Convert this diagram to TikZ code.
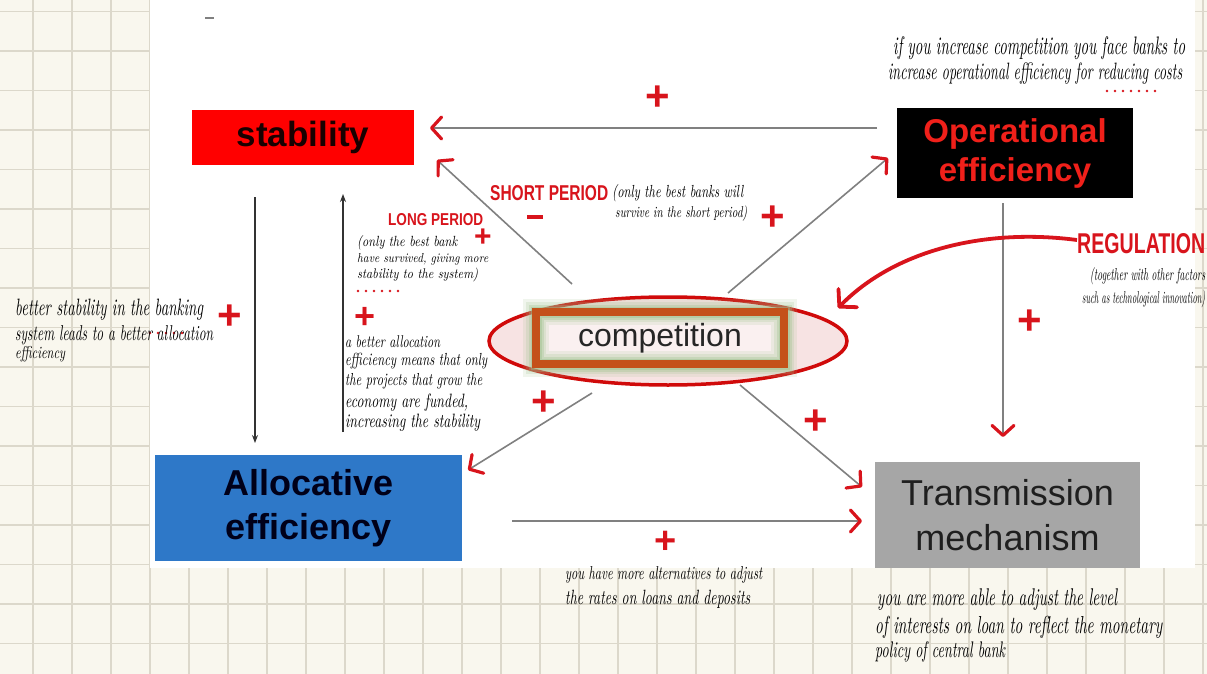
\documentclass[tikz,border=0pt]{standalone}
\usepackage{fontspec}
\usepackage{graphicx}
\usetikzlibrary{arrows.meta,shapes.geometric,calc}
\newfontfamily\arial{Liberation Sans}
\definecolor{paper}{HTML}{F9F7EE}
\definecolor{gridc}{HTML}{DCD8CB}
\definecolor{boxred}{HTML}{FF0000}
\definecolor{boxblue}{HTML}{2E78C8}
\definecolor{boxgray}{HTML}{A6A6A6}
\definecolor{handred}{HTML}{D8141C}
\definecolor{ellred}{HTML}{D00A0A}
\definecolor{ellfill}{HTML}{F7E3E3}
\definecolor{innerfill}{HTML}{FAF0F0}
\definecolor{rector}{HTML}{C4511A}
\definecolor{glow}{HTML}{9CC08A}
\definecolor{lineg}{HTML}{808080}
\definecolor{opred}{HTML}{F0201A}
\newcommand{\hw}[3][1.6]{\resizebox{#2pt}{!}{\scalebox{1}[#1]{\itshape #3}}}
\newcommand{\mk}[3]{\resizebox{#1pt}{#2pt}{\arial\bfseries #3}}
\begin{document}
\begin{tikzpicture}[x=1pt,y=-1pt,
  box/.style={rectangle, inner sep=0pt, align=center, font=\arial\bfseries\fontsize{35}{42}\selectfont},
  hwt/.style={anchor=base west, inner sep=0pt, text=black},
  mkt/.style={anchor=base west, inner sep=0pt, text=handred},
  plus/.style={text=handred, inner sep=0pt, font=\arial\bfseries\fontsize{42}{42}\selectfont},
  gline/.style={draw=lineg, line width=1.6pt},
  redtip/.style={-{Straight Barb[color=handred, length=10pt, width=22pt, line width=3.2pt, round]}},
  blk/.style={draw=black!80, line width=1.1pt, -{Stealth[length=8pt, width=6pt]}},
  dots/.style={draw=handred, line width=2.6pt, line cap=round, dash pattern=on 0pt off 8pt}
]
\useasboundingbox (0,0) rectangle (1207,674);
% paper background
\fill[paper] (0,0) rectangle (1207,674);
\foreach \k in {0,...,30} \draw[gridc, line width=1.2pt] ({33+39*\k},0) -- ({33+39*\k},674);
\foreach \k in {0,...,16} \draw[gridc, line width=1.2pt] (0,{11.5+39.5*\k}) -- (1207,{11.5+39.5*\k});
\fill[white] (150,0) rectangle (1195,568);
\draw[lineg, line width=1.5pt] (205,18) -- (214,18);

% boxes
\node[box, fill=boxred, minimum width=222pt, minimum height=55pt, text=black!90!red] (stab) at (303,137.5) {stability};
\node[box, fill=black, minimum width=236pt, minimum height=90pt, text=opred, font=\arial\bfseries\fontsize{33}{39}\selectfont] (op) at (1015,153) {Operational\\efficiency};
\node[box, fill=boxblue, minimum width=307pt, minimum height=106pt, text=black!90!blue, font=\arial\bfseries\fontsize{36}{44}\selectfont] (alloc) at (308.5,508) {Allocative\\efficiency};
\node[box, fill=boxgray, minimum width=265pt, minimum height=106pt, text=black!88, font=\arial\fontsize{36}{45}\selectfont] (trans) at (1007.5,515) {Transmission\\mechanism};

% connector end points
\coordinate (a1) at (877,128); \coordinate (a2) at (430,128);
\coordinate (b1) at (572,284); \coordinate (b2) at (437,160);
\coordinate (c1) at (728,293); \coordinate (c2) at (888,158);
\coordinate (d1) at (592,393); \coordinate (d2) at (468,470);
\coordinate (e1) at (740,385); \coordinate (e2) at (862,487);
\coordinate (f1) at (512,521); \coordinate (f2) at (862,521);
\coordinate (g1) at (1003,203); \coordinate (g2) at (1003,437);
\coordinate (h1) at (255,197); \coordinate (h2) at (255,443);
\coordinate (i1) at (343,432); \coordinate (i2) at (343,194);
\coordinate (r1) at (1077,240); \coordinate (r2) at (838,308);

\draw[gline, redtip] (a1) -- (a2);
\draw[gline, redtip] (b1) -- (b2);
\draw[gline, redtip] (c1) -- (c2);
\draw[gline, redtip] (d1) -- (d2);
\draw[gline, redtip] (e1) -- (e2);
\draw[gline, redtip] (f1) -- (f2);
\draw[gline, redtip] (g1) -- (g2);
\draw[blk] (h1) -- (h2);
\draw[blk] (i1) -- (i2);

% competition
\node[ellipse, draw=ellred, line width=3.5pt, fill=ellfill, minimum width=358pt, minimum height=88pt, inner sep=0pt] (comp) at (668,341) {};
\fill[innerfill] (536,312) rectangle (784,364);
\foreach \w/\o in {26/0.15,20/0.2,15/0.3,11/0.4}
  \draw[glow, line width=\w pt, opacity=\o] (536,312) rectangle (784,364);
\node[draw=rector, line width=7.5pt, minimum width=248pt, minimum height=52pt, inner sep=0pt, text=black!85, font=\arial\fontsize{32}{38}\selectfont] (comprect) at (660,338) {competition};

% regulation arrow
\draw[handred, line width=3.8pt, -{Straight Barb[length=12pt, width=26pt, line width=3.8pt, round]}] (r1) .. controls (985,228) and (895,250) .. (r2);

% plus and minus signs
\node[plus] (p1) at (658,98) {+};
\node[plus] (p2) at (773,218) {+};
\node[plus, font=\arial\bfseries\fontsize{30}{30}\selectfont] (p3) at (483,238) {+};
\node[plus, font=\arial\bfseries\fontsize{36}{36}\selectfont] (p4) at (365,318) {+};
\node[plus] (p5) at (230,317) {+};
\node[plus] (p6) at (544,403) {+};
\node[plus] (p7) at (816,422) {+};
\node[plus] (p8) at (1030,322) {+};
\node[plus, font=\arial\bfseries\fontsize{38}{38}\selectfont] (p9) at (666,542) {+};
\node[text=handred, inner sep=0pt] (minus) at (535,217) {\rule{16pt}{4.5pt}};

% red marker headings
\node[mkt] (sp) at (490,200) {\mk{118}{15}{SHORT PERIOD}};
\node[mkt] (lp) at (388,225) {\mk{95}{12}{LONG PERIOD}};
\node[mkt] (reg) at (1077,253) {\mk{128}{20}{REGULATION}};

% dotted underlines
\draw[dots] (1107,91) -- (1160,91);
\draw[dots] (358,291) -- (402,291);
\draw[dots] (150,333) -- (184,333);

% handwritten notes
\node[hwt] (tr1) at (893,55) {\hw[1.7]{292}{if you increase competition you face banks to}};
\node[hwt] (tr2) at (888,80) {\hw[1.7]{294}{increase operational efficiency for reducing costs}};

\node[hwt] (sp1) at (612,197) {\hw[1.4]{131}{(only the best banks will}};
\node[hwt] (sp2) at (615,217) {\hw[1.4]{132}{survive in the short period)}};

\node[hwt] (lp1) at (357,246) {\hw[1.2]{100}{(only the best bank}};
\node[hwt] (lp2) at (357,262) {\hw[1.15]{131}{have survived, giving more}};
\node[hwt] (lp3) at (357,278) {\hw[1.15]{121}{stability to the system)}};

\node[hwt] (l1) at (15,315) {\hw{188}{better stability in the banking}};
\node[hwt] (l2) at (15,340) {\hw{198}{system leads to a better allocation}};
\node[hwt] (l3) at (15,358) {\hw[1.4]{50}{efficiency}};

\node[hwt] (m1) at (345,347) {\hw[1.4]{95}{a better allocation}};
\node[hwt] (m2) at (345,365) {\hw[1.4]{142}{efficiency means that only}};
\node[hwt] (m3) at (345,385) {\hw[1.4]{137}{the projects that grow the}};
\node[hwt] (m4) at (345,407) {\hw[1.4]{123}{economy are funded,}};
\node[hwt] (m5) at (345,427) {\hw[1.4]{135}{increasing the stability}};

\node[hwt] (rg1) at (1090,280) {\hw[1.8]{115}{(together with other factors}};
\node[hwt] (rg2) at (1082,303) {\hw[2]{123}{such as technological innovation)}};

\node[hwt] (bm1) at (565,579) {\hw[1.5]{197}{you have more alternatives to adjust}};
\node[hwt] (bm2) at (565,604) {\hw[1.5]{185}{the rates on loans and deposits}};

\node[hwt] (br1) at (877,605) {\hw{240}{you are more able to adjust the level}};
\node[hwt] (br2) at (875,633) {\hw{287}{of interests on loan to reflect the monetary}};
\node[hwt] (br3) at (875,657) {\hw{130}{policy of central bank}};
\end{tikzpicture}
\end{document}
